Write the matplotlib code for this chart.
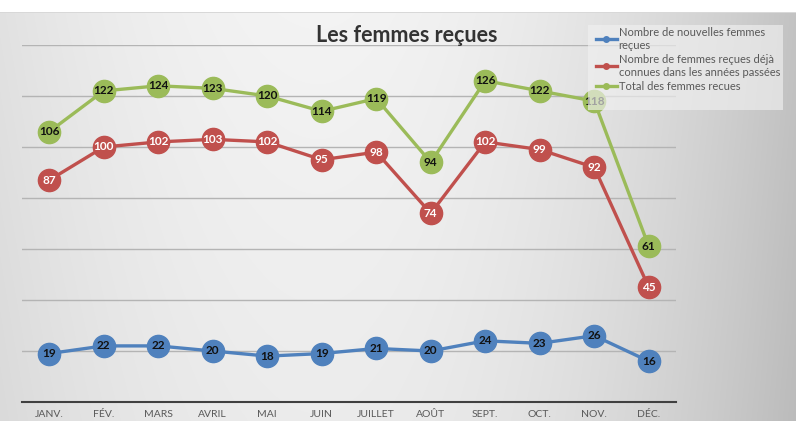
import numpy as np
import matplotlib

matplotlib.use("Agg")
import matplotlib.pyplot as plt
from matplotlib.patches import Rectangle

plt.rcParams["font.family"] = ["Lato", "DejaVu Sans"]

############### DATA ################
months = ["JANV.", "FÉV.", "MARS", "AVRIL", "MAI", "JUIN", "JUILLET",
          "AOÛT", "SEPT.", "OCT.", "NOV.", "DÉC."]
new_women = [19, 22, 22, 20, 18, 19, 21, 20, 24, 23, 26, 16]
known_women = [87, 100, 102, 103, 102, 95, 98, 74, 102, 99, 92, 45]
total_women = [106, 122, 124, 123, 120, 114, 119, 94, 126, 122, 118, 61]

labels = ["Nombre de nouvelles femmes\nreçues",
          "Nombre de femmes reçues déjà\nconnues dans les années passées",
          "Total des femmes recues"]

blue = "#4f81bd"
red = "#c0504d"
green = "#9bbb59"

fig = plt.figure(figsize=(7.96, 4.21), dpi=100)

############### BACKGROUND GRADIENT ##############
W, H = 796, 421
gx = np.linspace(0, 1, W)
left = 0.955 - 0.07 * ((gx - 0.4) / 0.4) ** 2
right = 0.955 - 0.19 * ((gx - 0.4) / 0.6) ** 2
row = np.where(gx < 0.4, left, right)
gy = np.linspace(0, 1, H)[:, None]
bg = row[None, :] - 0.03 * gy
bg[:12, :] = 1.0
bg[12, :] = 0.85
img = np.dstack([bg, bg, bg])
bg_ax = fig.add_axes([0, 0, 1, 1], zorder=-10)
bg_ax.imshow(img, aspect="auto", extent=(0, 1, 0, 1))
bg_ax.axis("off")

############### CHART ##############
ax = fig.add_axes([22 / W, 1 - 402 / H, (676 - 22) / W, (402 - 45) / H])
ax.patch.set_alpha(0)

x = np.arange(len(months))
series = [(new_women, blue, "#111111"),
          (known_women, red, "white"),
          (total_women, green, "#111111")]

for (vals, col, tcol), lab in zip(series, labels):
    ax.plot(x, vals, color=col, lw=2.4, marker="o", ms=16, mec=col,
            mfc=col, clip_on=False, zorder=3, label=lab)
    for xi, v in zip(x, vals):
        ax.text(xi, v, str(v), ha="center", va="center", fontsize=8.5,
                fontweight="bold", color=tcol, zorder=4)

ax.set_xlim(-0.5, 11.5)
ax.set_ylim(0, 140)
ax.set_yticks(np.arange(20, 141, 20))
ax.yaxis.grid(True, color="#b4b4b4", lw=1)
ax.set_axisbelow(True)
ax.tick_params(axis="y", left=False, labelleft=False)
ax.tick_params(axis="x", length=0, labelsize=7.5, labelcolor="#595959", pad=6)
ax.set_xticks(x)
ax.set_xticklabels(months)
for s in ["top", "right", "left"]:
    ax.spines[s].set_visible(False)
ax.spines["bottom"].set_color("#404040")
ax.spines["bottom"].set_linewidth(1.5)

fig.text(407 / W, 1 - 36 / H, "Les femmes reçues", ha="center", va="center",
         fontsize=15.5, fontweight="bold", color="#333333")

# legend background box (covers part of the NOV marker like the original)
box = Rectangle((588 / W, 1 - 110 / H), (783 - 588) / W, (110 - 25) / H,
                transform=fig.transFigure, facecolor="#f0f0f0", alpha=0.65,
                edgecolor="none", zorder=5)
fig.add_artist(box)

handles, labs = ax.get_legend_handles_labels()
leg = fig.legend(handles, labs, loc="upper left",
                 bbox_to_anchor=(588 / W, 1 - 19 / H), fontsize=8.0,
                 handlelength=1.9, handletextpad=0.15, labelspacing=0.3,
                 borderpad=0.2, frameon=False,
                 markerscale=0.25, labelcolor="#595959")
leg.set_zorder(10)
for h in leg.get_lines():
    h.set_linewidth(2.4)

fig.savefig("out.png", dpi=100)
